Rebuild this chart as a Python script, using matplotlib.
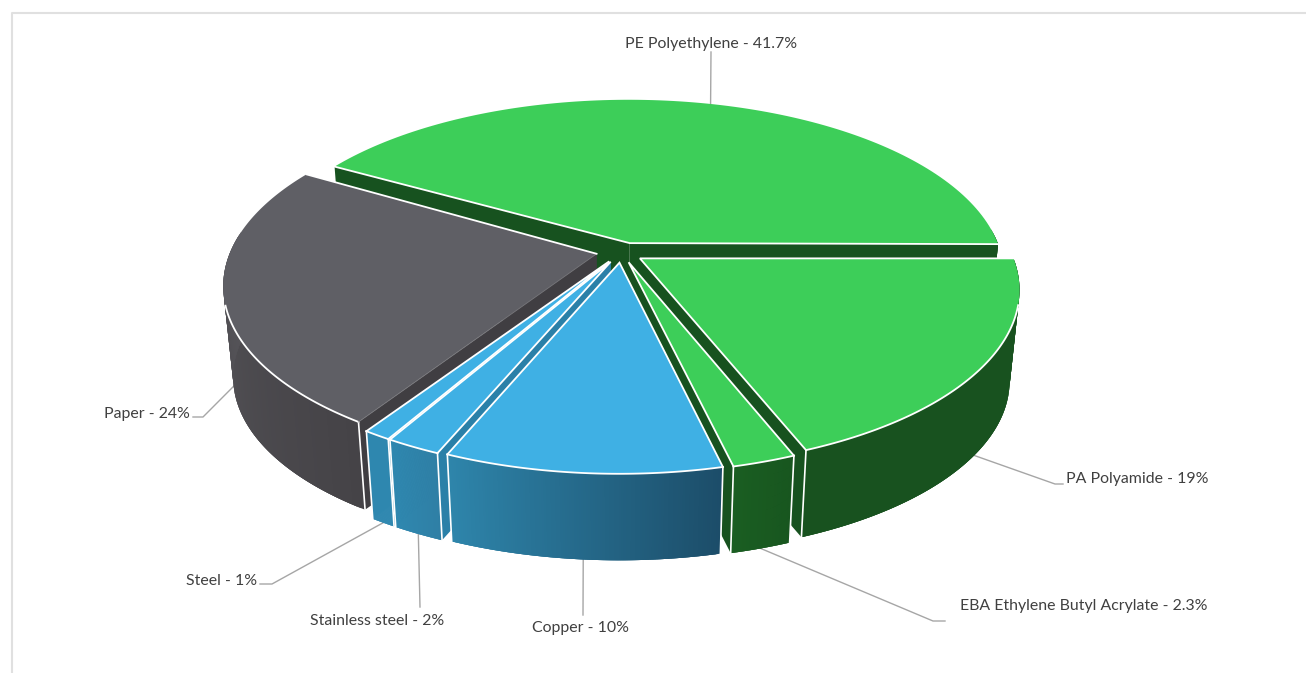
import numpy as np
import matplotlib
matplotlib.use('Agg')
import matplotlib.pyplot as plt
from matplotlib.colors import to_rgb

# chart data
names = ['PE Polyethylene', 'PA Polyamide', 'EBA Ethylene Butyl Acrylate', 'Copper',
         'Stainless steel', 'Steel', 'Paper']
values = [41.7, 19, 2.3, 10, 2, 1, 24]

# styling per slice
explode = [0.06, 0.045, 0.05, 0.05, 0.05, 0.05, 0.07]
nudge = [(2, 0), (4, 0), (1, 0), (-1, 0), (-3, 0), (-3, 0), (6, -3)]
hub_nudge = [(0, -1), (0, 0), (0, 0), (0, 0), (0, 0), (0, 0), (-6, 0)]
top_colors = ['#3dce59', '#3dce59', '#3dce59', '#3fb0e4', '#3fb0e4', '#3fb0e4', '#5f5f65']
# wall shade at the start and at the end of each slice (clockwise)
wall_start = ['#18521f', '#18521f', '#18561f', '#1c4d69', '#2f7fa5', '#2f88b0', '#454347']
wall_end = ['#18521f', '#18521f', '#1a5e22', '#2e85ab', '#2f88b0', '#2f88b0', '#5c5b60']
cut_colors = ['#17521f', '#17521f', '#17521f', '#2a80a8', '#2a80a8', '#2a80a8', '#403e42']
draw_order = [0, 6, 1, 5, 4, 2, 3]

# label placement: text x, text y, alignment, leader points after the rim anchor
label_pos = [(711, 44, 'center', [(711, 52)]),
             (1066, 479, 'left', [(1055, 484), (1063, 484)]),
             (1207, 606, 'right', [(933, 621), (945, 621)]),
             (581, 628, 'center', [(583, 615)]),
             (377, 621, 'center', [(420, 607)]),
             (222, 581, 'center', [(272, 584), (260, 584)]),
             (147, 414, 'center', [(203, 417), (193, 417)])]

cx, cy = 622, 254
rx, ry = 372, 172
persp = 0.17
depth = 92
shrink = 0.975
start_deg = 150.12


def project(X, Y):
    w = 1 + persp * Y
    return cx + rx * X / w, cy - ry * Y / w


def lower(x, y):
    return cx + shrink * (x - cx), cy + depth + shrink * (y - cy)


def mix(a, b, t):
    a, b = np.array(to_rgb(a)), np.array(to_rgb(b))
    return tuple(a + (b - a) * t)


fig = plt.figure(figsize=(13.06, 6.73), dpi=100)
ax = fig.add_axes([0, 0, 1, 1])
ax.set_xlim(0, 1306)
ax.set_ylim(673, 0)
ax.axis('off')

# chart frame, only top and left show
ax.plot([11.5, 11.5, 1306], [673, 13, 13], color='#e0e0e0', lw=1.5, zorder=1)

ends = start_deg - np.cumsum(values) * 3.6
starts = np.r_[start_deg, ends[:-1]]

z = 2
rims = {}
for i in draw_order:
    a0, a1 = np.radians(starts[i]), np.radians(ends[i])
    mid = (a0 + a1) / 2
    ox, oy = explode[i] * np.cos(mid), explode[i] * np.sin(mid)
    th = np.linspace(a0, a1, 120)
    tx, ty = project(ox + np.cos(th), oy + np.sin(th))
    tx, ty = tx + nudge[i][0], ty + nudge[i][1]
    bx, by = lower(tx, ty)
    hx, hy = project(ox, oy)
    hx, hy = hx + nudge[i][0] + hub_nudge[i][0], hy + nudge[i][1] + hub_nudge[i][1]
    hbx, hby = lower(hx, hy)

    # radial cut walls
    for j in (0, -1):
        ax.fill([hx, tx[j], bx[j], hbx], [hy, ty[j], by[j], hby], color=cut_colors[i],
                lw=0, zorder=z)
        z += 1

    # outer wall, overlapping strips so no seams show; the far side is hidden anyway
    for k in range(len(th) - 1):
        if np.sin(th[k]) > 0.1:
            continue
        col = mix(wall_start[i], wall_end[i], k / (len(th) - 2))
        k2 = min(k + 3, len(th) - 1)
        ax.fill(np.r_[tx[k:k2 + 1], bx[k:k2 + 1][::-1]], np.r_[ty[k:k2 + 1], by[k:k2 + 1][::-1]],
                color=col, lw=0, zorder=z)
    z += 1
    # white corner lines only on the corners facing the viewer
    for j in (0, -1):
        if np.sin(th[j]) < -0.1:
            ax.plot([tx[j], bx[j]], [ty[j], by[j]], color='white', lw=1.2, zorder=z)
    z += 1

    # top face
    ax.fill(np.r_[hx, tx], np.r_[hy, ty], color=top_colors[i], lw=0, zorder=z)
    z += 1
    vis = ty > 305
    if vis.any():
        ax.plot(tx[vis], ty[vis], color='white', lw=1.3, zorder=z)
    if i == 6:
        ax.plot([hx, tx[0]], [hy, ty[0]], color='#77777b', lw=0.6, zorder=z)
        ax.plot([hx, tx[-1]], [hy, ty[-1]], color='white', lw=1.3, zorder=z)
    else:
        ax.plot([tx[-1], hx, tx[0]], [ty[-1], hy, ty[0]], color='white', lw=1.3,
                solid_joinstyle='miter', zorder=z)
    z += 1

    mx, my = project(ox + np.cos(mid), oy + np.sin(mid))
    mx, my = mx + nudge[i][0], my + nudge[i][1]
    rims[i] = (mx, my) if i == 0 else lower(mx, my)

# leader lines and labels
for i in range(len(names)):
    tx0, ty0, ha, pts = label_pos[i]
    xs = [rims[i][0]] + [p[0] for p in pts]
    ys = [rims[i][1]] + [p[1] for p in pts]
    ax.plot(xs, ys, color='#a6a6a6', lw=1, zorder=1.5)
    ax.text(tx0, ty0, f'{names[i]} - {values[i]}%', ha=ha, va='center', family='Lato',
            fontsize=11.4, color='#404040', zorder=z)

fig.savefig('out.png', dpi=100)
